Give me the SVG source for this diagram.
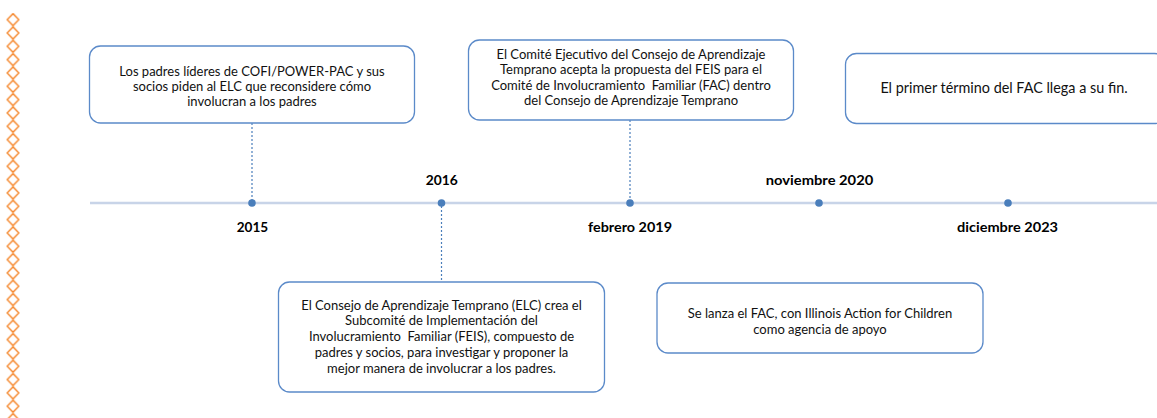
<svg xmlns="http://www.w3.org/2000/svg" width="1157" height="418" viewBox="0 0 1157 418">
<defs>
<pattern id="zig" x="6.5" y="13" width="13" height="13.33" patternUnits="userSpaceOnUse">
<path d="M6.5 0.6 L12.3 6.67 L6.5 12.73 L0.7 6.67 Z" fill="none" stroke="#F5862A" stroke-width="1.4"/>
</pattern>
<style>
.box{fill:#fff;stroke:#5B8AC9;stroke-width:1.3}
.t{font-family:Lato,"Liberation Sans",sans-serif;font-size:13px;fill:#111;text-anchor:middle}
.lbl{font-family:Lato,"Liberation Sans",sans-serif;font-size:14px;font-weight:bold;fill:#000;text-anchor:middle}
.dot{fill:#4A7EBB}
.conn{stroke:#4A7EBB;stroke-width:1.2;stroke-dasharray:2 2;fill:none}
</style>
</defs>
<rect width="1157" height="418" fill="#fff"/>
<rect id="border" x="6.5" y="13" width="13" height="405" fill="url(#zig)"/>
<g id="timeline">
<line x1="90" y1="203" x2="1157" y2="203" stroke="#C8D4E8" stroke-width="2.5"/>
<circle class="dot" cx="252" cy="203" r="3.8"/>
<circle class="dot" cx="441.5" cy="203" r="3.8"/>
<circle class="dot" cx="630" cy="203" r="3.8"/>
<circle class="dot" cx="819" cy="203" r="3.8"/>
<circle class="dot" cx="1008" cy="203" r="3.8"/>
<text class="lbl" x="252.5" y="231.5" textLength="31.5" lengthAdjust="spacingAndGlyphs">2015</text>
<text class="lbl" x="441.7" y="184.5" textLength="32" lengthAdjust="spacingAndGlyphs">2016</text>
<text class="lbl" x="630" y="231.5" textLength="84" lengthAdjust="spacingAndGlyphs">febrero 2019</text>
<text class="lbl" x="819.5" y="184.5" textLength="107.5" lengthAdjust="spacingAndGlyphs">noviembre 2020</text>
<text class="lbl" x="1007.5" y="231.5" textLength="101" lengthAdjust="spacingAndGlyphs">diciembre 2023</text>
</g>
<g id="connectors">
<line class="conn" x1="252" y1="123" x2="252" y2="200"/>
<line class="conn" x1="630" y1="120" x2="630" y2="200"/>
<line class="conn" x1="441.5" y1="206" x2="441.5" y2="282"/>
</g>
<g id="n2015">
<rect class="box" x="89.5" y="46" width="325" height="77" rx="11"/>
<text class="t" x="252" y="76">Los padres líderes de COFI/POWER-PAC y sus</text>
<text class="t" x="252" y="91">socios piden al ELC que reconsidere cómo</text>
<text class="t" x="252" y="106">involucran a los padres</text>
</g>
<g id="n2016">
<rect class="box" x="278.5" y="282" width="326" height="110" rx="11"/>
<text class="t" x="441.5" y="309.5">El Consejo de Aprendizaje Temprano (ELC) crea el</text>
<text class="t" x="441.5" y="325">Subcomité de Implementación del</text>
<text class="t" x="441.5" y="340.5" xml:space="preserve">Involucramiento  Familiar (FEIS), compuesto de</text>
<text class="t" x="441.5" y="356.5">padres y socios, para investigar y proponer la</text>
<text class="t" x="441.5" y="372.5">mejor manera de involucrar a los padres.</text>
</g>
<g id="n2019">
<rect class="box" x="468.5" y="40" width="325" height="80" rx="11"/>
<text class="t" x="631" y="58.5">El Comité Ejecutivo del Consejo de Aprendizaje</text>
<text class="t" x="631" y="74">Temprano acepta la propuesta del FEIS para el</text>
<text class="t" x="631" y="89.5" xml:space="preserve">Comité de Involucramiento  Familiar (FAC) dentro</text>
<text class="t" x="631" y="105">del Consejo de Aprendizaje Temprano</text>
</g>
<g id="n2020">
<rect class="box" x="657" y="283" width="326" height="70" rx="11"/>
<text class="t" x="820" y="317.5">Se lanza el FAC, con Illinois Action for Children</text>
<text class="t" x="820" y="333.5">como agencia de apoyo</text>
</g>
<g id="n2023">
<rect class="box" x="845.5" y="53.5" width="320" height="70" rx="11"/>
<text class="t" x="1004" y="92.5" style="font-size:14.4px">El primer término del FAC llega a su fin.</text>
</g>
</svg>
